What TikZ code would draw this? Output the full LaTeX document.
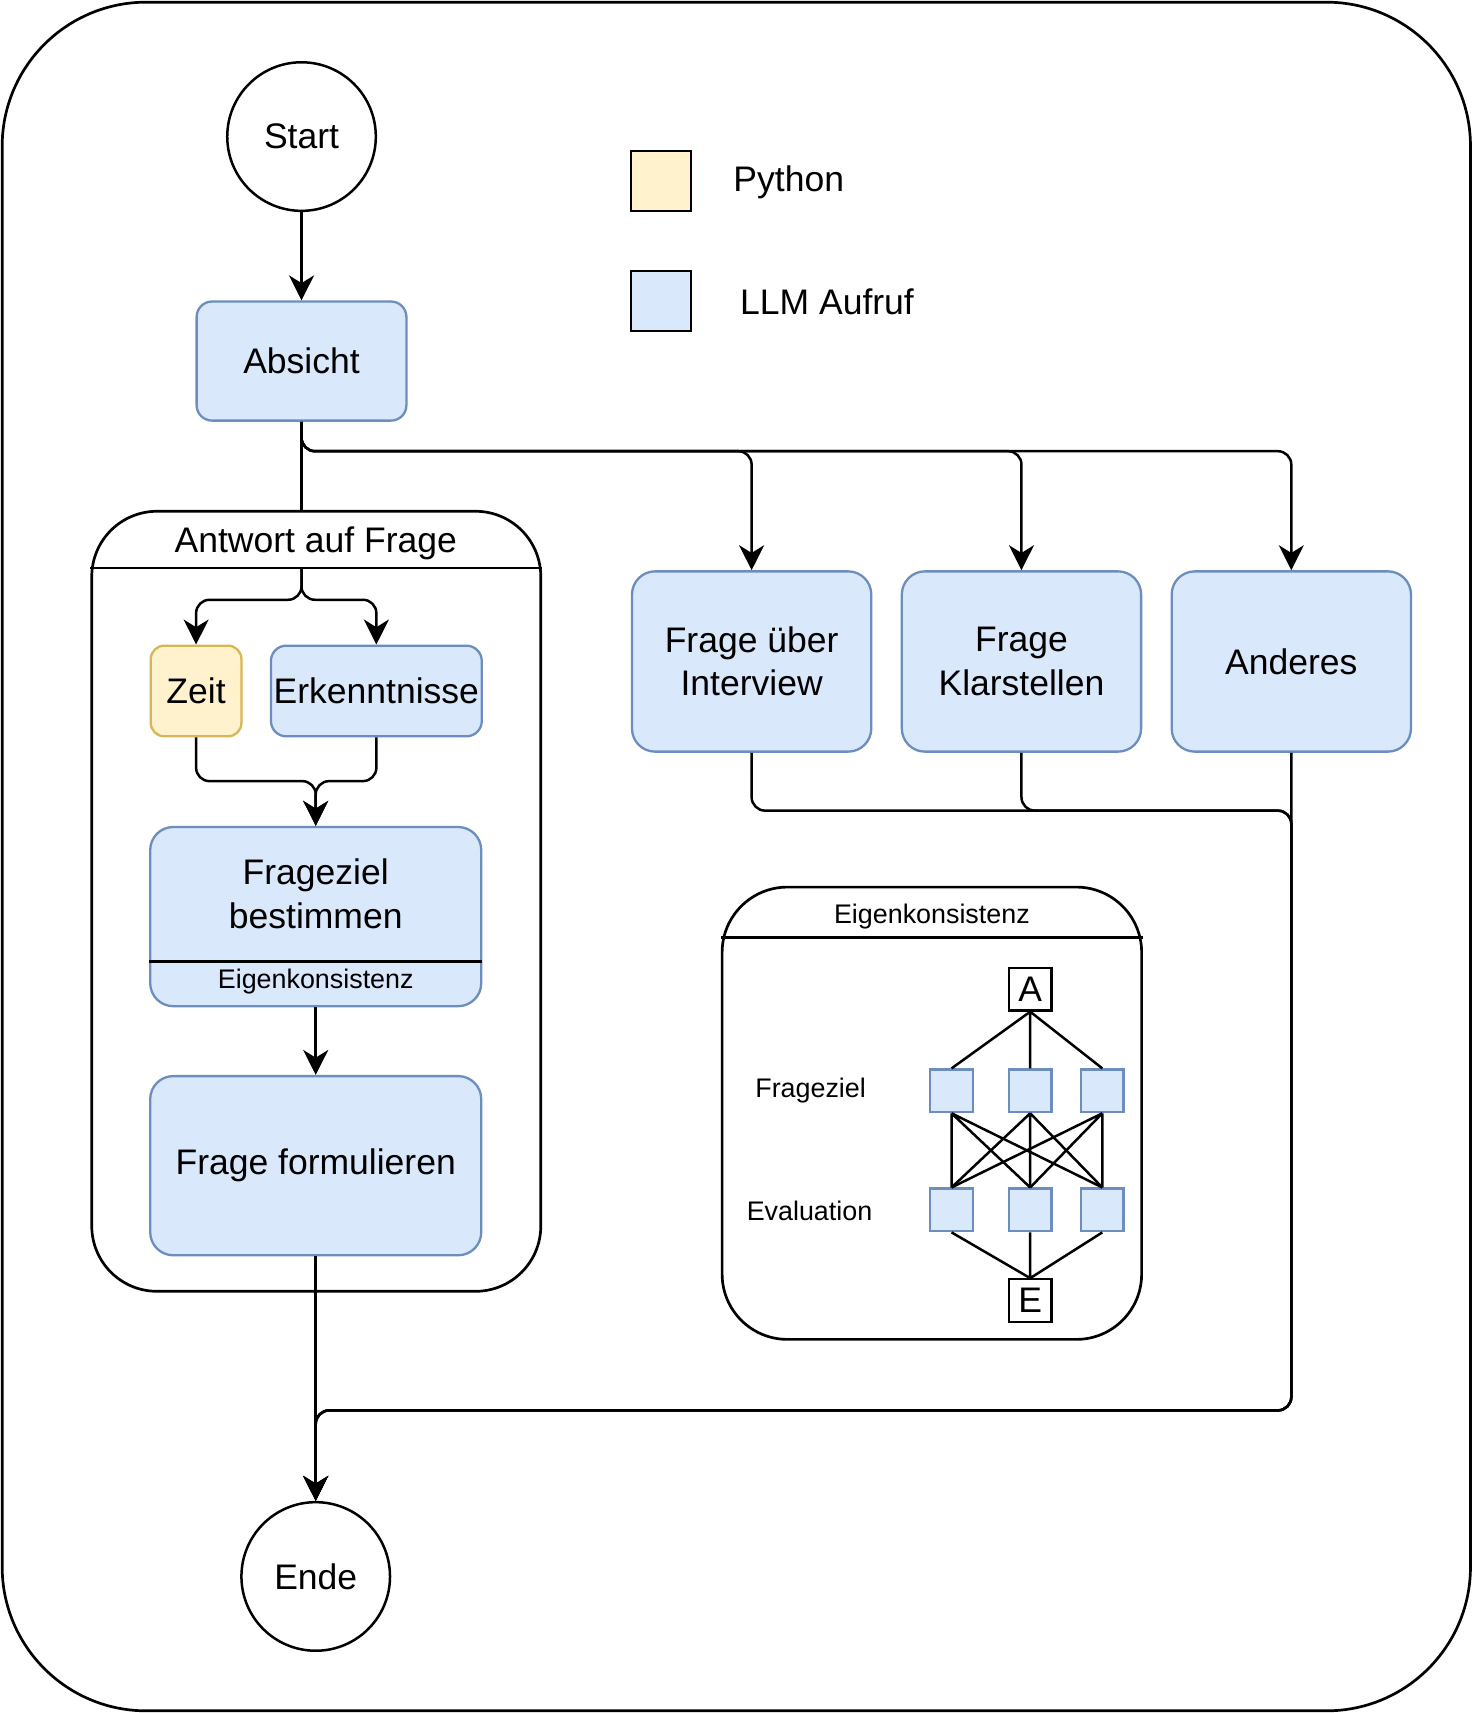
\documentclass[tikz,border=0pt]{standalone}
\usepackage{fontspec}
\setmainfont{Liberation Sans}
\usepackage{tikz}
\usetikzlibrary{positioning}
\usetikzlibrary{arrows.meta}

\definecolor{llmfill}{HTML}{DAE8FC}
\definecolor{llmdraw}{HTML}{6C8EBF}
\definecolor{pyfill}{HTML}{FFF2CC}
\definecolor{pydraw}{HTML}{D6B656}

\tikzset{
    bigtext/.style={font=\fontsize{18.5}{22.7}\selectfont},
    smalltext/.style={font=\fontsize{14}{17}\selectfont},
    llmbox/.style={draw=llmdraw, fill=llmfill, line width=1.2pt, rounded corners=12pt, bigtext, align=center, inner sep=0pt},
    pybox/.style={draw=pydraw, fill=pyfill, line width=1.2pt, rounded corners=7pt, bigtext, inner sep=0pt},
    endpoint/.style={draw, circle, line width=1.3pt, minimum size=2.72cm, bigtext},
    lanebox/.style={draw, line width=1.4pt, rounded corners=34pt},
    subbox/.style={draw=llmdraw, fill=llmfill, line width=1.2pt, minimum size=0.78cm},
    markbox/.style={draw, line width=1.2pt, minimum size=0.78cm, inner sep=0pt, bigtext},
}

\begin{document}
\begin{tikzpicture}[x=0.2mm, y=-0.2mm, line width=1.3pt, >={Stealth[length=13pt,width=13pt,inset=4pt]}]
        \useasboundingbox (0,0) rectangle (1348,1568);
        \draw [rounded corners=75pt, line width=1.4pt] (2,2) rectangle (1346,1566);

        % Legende
        \node (PyKey)[draw, fill=pyfill, minimum size=1.1cm] at (605,165.5) {};
        \node (PyText)[bigtext] at (722,167) {Python};
        \node (LlmKey)[draw, fill=llmfill, minimum size=1.1cm] at (605,275.5) {};
        \node (LlmText)[bigtext] at (757,276) {LLM Aufruf};

        % Ablauf
        \node (Start)[endpoint] at (276,125) {Start};
        \node (Absicht)[llmbox, minimum width=3.84cm, minimum height=2.18cm, rounded corners=8pt] at (276,330.5) {Absicht};
        \node (Interview)[llmbox, minimum width=4.38cm, minimum height=3.3cm] at (688,605.5) {Frage über\\Interview};
        \node (Klarstellen)[llmbox, minimum width=4.38cm, minimum height=3.3cm] at (935,605.5) {Frage\\Klarstellen};
        \node (Anderes)[llmbox, minimum width=4.38cm, minimum height=3.3cm] at (1182,605.5) {Anderes};
        \node (Ende)[endpoint] at (289,1443) {Ende};

        % Antwort auf Frage
        \node (Antwort)[lanebox, minimum width=8.22cm, minimum height=14.28cm] at (289.5,825) {};
        \node (AntwortTitel)[bigtext] at (289,497) {Antwort auf Frage};
        \coordinate (Split) at (276,520);
        \coordinate (SplitLow) at (276,549);
        \draw [line width=1.4pt] (Antwort.west |- Split) -- (Antwort.east |- Split);

        \node (Zeit)[pybox, minimum width=1.66cm, minimum height=1.66cm] at (179.5,632.5) {Zeit};
        \node (Erkenntnisse)[llmbox, minimum width=3.86cm, minimum height=1.66cm, rounded corners=8pt] at (344.5,632.5) {Erkenntnisse};
        \node (Frageziel)[llmbox, minimum width=6.06cm, minimum height=3.28cm] at (289,839) {};
        \node (FragezielText)[bigtext, align=center] at (289,818) {Frageziel\\bestimmen};
        \coordinate (Sep) at (289,880);
        \draw (Frageziel.west |- Sep) -- (Frageziel.east |- Sep);
        \node (FragezielSub)[smalltext] at (289,898) {Eigenkonsistenz};
        \node (Formulieren)[llmbox, minimum width=6.06cm, minimum height=3.28cm] at (289,1067) {Frage formulieren};
        \coordinate (Merge) at (289,715);

        % Eigenkonsistenz
        \node (Konsistenz)[lanebox, minimum width=7.68cm, minimum height=8.28cm] at (853,1019) {};
        \node (KonsistenzTitel)[smalltext] at (853,839) {Eigenkonsistenz};
        \coordinate (KHead) at (853,858);
        \draw [line width=1.4pt] (Konsistenz.west |- KHead) -- (Konsistenz.east |- KHead);
        \node (FLabel)[smalltext] at (742,998) {Frageziel};
        \node (VLabel)[smalltext] at (741,1108) {Evaluation};
        \node (A)[markbox] at (943,905.5) {A};
        \node (F1)[subbox] at (871,998.5) {};
        \node (F2)[subbox] at (943,998.5) {};
        \node (F3)[subbox] at (1009,998.5) {};
        \node (V1)[subbox] at (871,1107.5) {};
        \node (V2)[subbox] at (943,1107.5) {};
        \node (V3)[subbox] at (1009,1107.5) {};
        \node (E)[markbox] at (943,1190.5) {E};

        \draw (A.south) -- (F1.north) (A.south) -- (F2.north) (A.south) -- (F3.north);
        \draw (F1.south) -- (V1.north) (F1.south) -- (V2.north) (F1.south) -- (V3.north);
        \draw (F2.south) -- (V1.north) (F2.south) -- (V2.north) (F2.south) -- (V3.north);
        \draw (F3.south) -- (V1.north) (F3.south) -- (V2.north) (F3.south) -- (V3.north);
        \draw (V1.south) -- (E.north) (V2.south) -- (E.north) (V3.south) -- (E.north);

        % Verbindungen
        \coordinate (Fork) at (276,413);
        \coordinate (RowR) at (1182,742);
        \coordinate (Back) at (1182,1291);

        \draw [->] (Start) -- (Absicht);
        \draw (Absicht.south) -- (Absicht.south |- Antwort.north);
        \draw [->, rounded corners=7pt] (Absicht.south) -- (Fork) -| (Interview.north);
        \draw [->, rounded corners=7pt] (Absicht.south) -- (Fork) -| (Klarstellen.north);
        \draw [->, rounded corners=7pt] (Absicht.south) -- (Fork) -| (Anderes.north);

        \draw [->, rounded corners=7pt] (Split) -- (SplitLow) -| (Zeit.north);
        \draw [->, rounded corners=7pt] (Split) -- (SplitLow) -| (Erkenntnisse.north);
        \draw [->, rounded corners=7pt] (Zeit.south) |- (Merge) -- (Frageziel.north);
        \draw [->, rounded corners=7pt] (Erkenntnisse.south) |- (Merge) -- (Frageziel.north);
        \draw [->] (Frageziel) -- (Formulieren);
        \draw [->] (Formulieren) -- (Ende);

        \draw [->, rounded corners=7pt] (Interview.south) |- (RowR) -- (Back) -| (Ende.north);
        \draw [->, rounded corners=7pt] (Klarstellen.south) |- (RowR) -- (Back) -| (Ende.north);
        \draw [->, rounded corners=7pt] (Anderes.south) -- (Back) -| (Ende.north);
    \end{tikzpicture}
\end{document}
